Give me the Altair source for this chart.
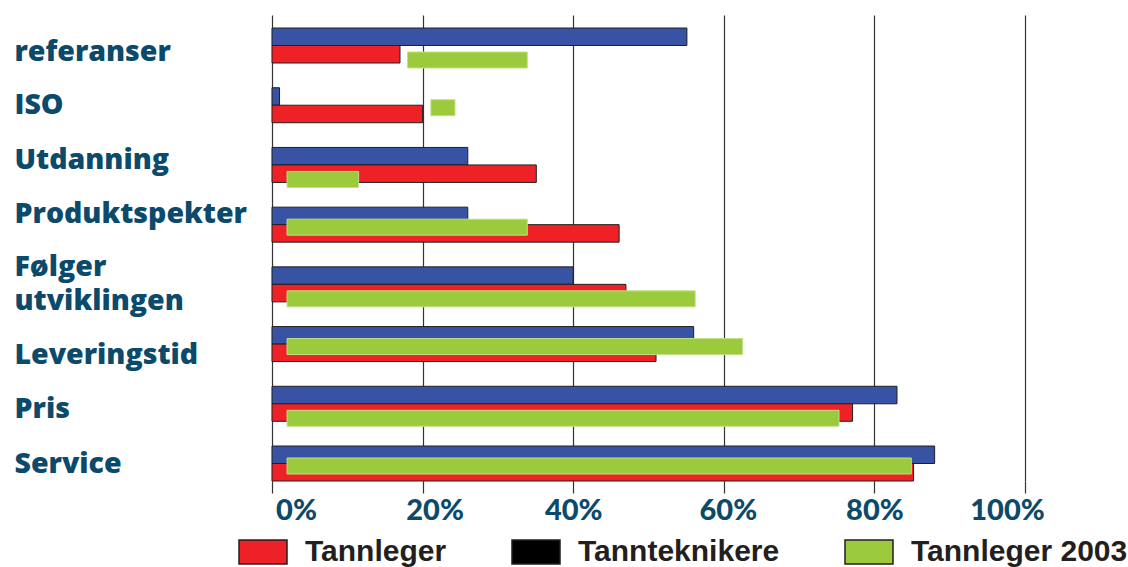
import altair as alt
import pandas as pd

categories = ["referanser", "ISO", "Utdanning", "Produktspekter",
              "Følger\nutviklingen", "Leveringstid", "Pris", "Service"]
tannteknikere = [55.1, 1.0, 26.0, 26.0, 40.0, 56.0, 83.0, 88.0]
tannleger = [17.0, 20.0, 35.1, 46.1, 47.0, 51.0, 77.1, 85.2]
tannleger2003_start = [18.0, 21.1, 2.0, 2.0, 2.0, 2.0, 2.0, 2.0]
tannleger2003_end = [33.9, 24.3, 11.5, 33.9, 56.2, 62.5, 75.3, 84.9]
legend_labels = ["Tannleger", "Tannteknikere", "Tannleger 2003"]
tick_values = [0, 20, 40, 60, 80, 100]

rows = []
for c, v in zip(categories, tannteknikere):
    rows.append({"kategori": c, "serie": "Tannteknikere", "verdi": v})
for c, v in zip(categories, tannleger):
    rows.append({"kategori": c, "serie": "Tannleger", "verdi": v})
bars_df = pd.DataFrame(rows)

green_df = pd.DataFrame({
    "kategori": categories,
    "start": tannleger2003_start,
    "slutt": tannleger2003_end,
    "rad": list(range(len(categories))),
})

TEAL = "#0b4a6a"
GRID = "#333333"

y_scale = alt.Scale(domain=categories, paddingInner=0.414, paddingOuter=0.109, align=1)
x_scale = alt.Scale(domain=[0, 100], nice=False, zero=True)

x_axis = alt.Axis(
    values=tick_values, labelExpr="datum.value + '%'", title=None,
    grid=True, gridColor=GRID, gridWidth=1.2,
    ticks=True, tickSize=12, tickColor=GRID, tickWidth=1.2,
    domain=False, labelFont="Lato", labelFontSize=29, labelFontWeight=900,
    labelColor=TEAL, labelPadding=3, labelFlush=False,
    labelOffset={"condition": [
        {"test": "datum.value == 0", "value": 24},
        {"test": "datum.value == 20", "value": 12},
        {"test": "datum.value == 60", "value": 4},
        {"test": "datum.value == 100", "value": -18},
    ], "value": 0},
)
y_axis = alt.Axis(
    title=None, ticks=False, tickSize=0, domain=False, grid=False,
    labelAlign="left", labelBaseline="middle", labelPadding=258,
    labelFont="Open Sans", labelFontSize=28.5, labelFontWeight=800,
    labelColor=TEAL, labelLineHeight=34, labelLimit=0,
    labelExpr="split(datum.label, '\\n')",
    labelOffset={"condition": [
        {"test": "datum.value == 'referanser'", "value": 6},
        {"test": "datum.value == 'Utdanning'", "value": -5},
        {"test": "datum.value == 'Produktspekter'", "value": -11},
        {"test": "indexof(datum.value, 'utviklingen') >= 0", "value": -17},
        {"test": "datum.value == 'Leveringstid'", "value": 11},
        {"test": "datum.value == 'Pris'", "value": 5},
    ], "value": 0},
)

X = alt.X("verdi:Q", scale=x_scale, axis=x_axis)
Y = alt.Y("kategori:N", scale=y_scale, axis=y_axis, sort=categories)

bars = alt.Chart(bars_df).mark_bar(stroke="#231f20", strokeWidth=1).encode(
    x=X, y=Y,
    yOffset=alt.YOffset("serie:N", scale=alt.Scale(domain=["Tannteknikere", "Tannleger"],
                                                   paddingInner=0, paddingOuter=0)),
    color=alt.Color("serie:N", scale=alt.Scale(domain=["Tannteknikere", "Tannleger"],
                                               range=["#3853a4", "#ee2226"]), legend=None),
)

def green_layer(parity, offset):
    return alt.Chart(green_df).transform_filter(f"datum.rad % 2 == {parity}").mark_bar(
        size=16, yOffset=offset, fill="#9bca3c", stroke="#c4df86", strokeWidth=1
    ).encode(
        x=alt.X("start:Q", scale=x_scale, axis=x_axis),
        x2="slutt:Q",
        y=Y,
    )

green_a = green_layer(0, 14.5)
green_b = green_layer(1, 2.5)

legend_layer = alt.Chart(bars_df).transform_filter("false").mark_bar().encode(
    x=X, y=Y,
    fill=alt.Fill("serie:N",
                  scale=alt.Scale(domain=legend_labels, range=["#ee2226", "#000000", "#9bca3c"]),
                  legend=alt.Legend(
                      orient="none", legendX=-34, legendY=512, direction="horizontal",
                      columns=3, title=None, padding=0,
                      symbolType="M-1,-0.5H1V0.5H-1Z", symbolSize=2304,
                      symbolStrokeColor="#231f20", symbolStrokeWidth=1.5, symbolOpacity=1,
                      labelFont="Liberation Sans", labelFontSize=30, labelFontWeight="bold",
                      labelColor="#231f20", labelOffset=17, columnPadding=62, labelLimit=0,
                  )),
)

chart = alt.layer(bars, green_a, green_b, legend_layer).properties(
    width=753, height=466,
    autosize=alt.AutoSizeParams(type="none"),
    padding={"left": 272, "top": 15, "right": 103, "bottom": 86},
    background="white",
).configure_view(stroke="transparent")

chart.save("out.html", embed_options={"renderer": "svg", "actions": False})
